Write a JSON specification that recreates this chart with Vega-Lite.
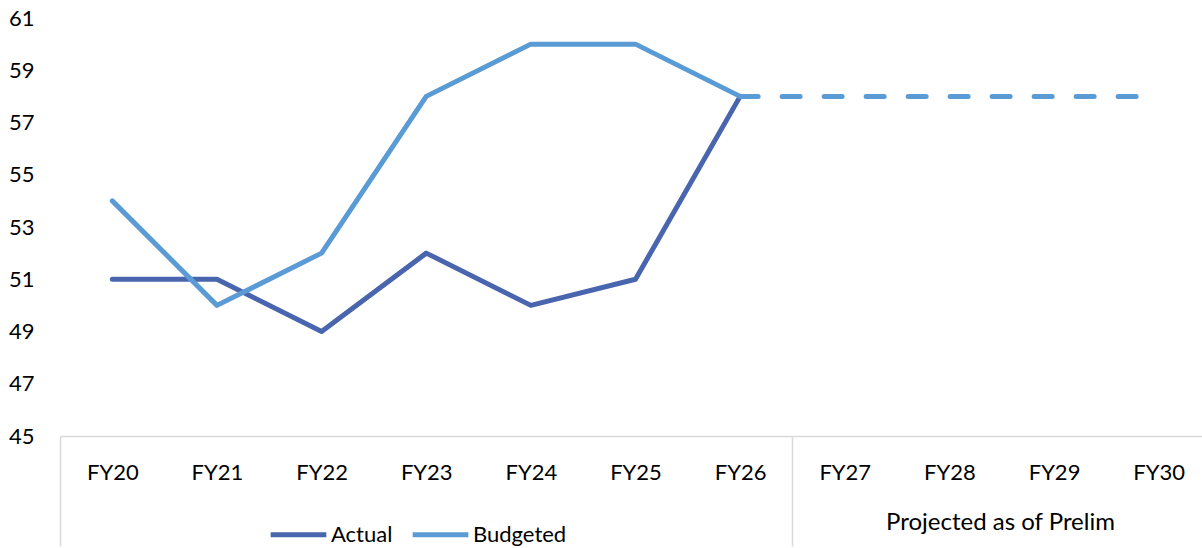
{
  "$schema": "https://vega.github.io/schema/vega-lite/v6.json",
  "autosize": "none",
  "width": 1151,
  "height": 418,
  "padding": {"left": 60, "top": 18, "right": 0, "bottom": 112},
  "background": "white",
  "config": {
    "view": {"stroke": null},
    "font": "Lato",
    "axis": {"labelFont": "Lato", "labelColor": "#000000", "titleFont": "Lato"},
    "legend": {"labelFont": "Lato"}
  },
  "data": {
    "values": [
      {"year": "FY20", "series": "Actual", "value": 51, "part": "hist"},
      {"year": "FY21", "series": "Actual", "value": 51, "part": "hist"},
      {"year": "FY22", "series": "Actual", "value": 49, "part": "hist"},
      {"year": "FY23", "series": "Actual", "value": 52, "part": "hist"},
      {"year": "FY24", "series": "Actual", "value": 50, "part": "hist"},
      {"year": "FY25", "series": "Actual", "value": 51, "part": "hist"},
      {"year": "FY26", "series": "Actual", "value": 58, "part": "hist"},
      {"year": "FY20", "series": "Budgeted", "value": 54, "part": "hist"},
      {"year": "FY21", "series": "Budgeted", "value": 50, "part": "hist"},
      {"year": "FY22", "series": "Budgeted", "value": 52, "part": "hist"},
      {"year": "FY23", "series": "Budgeted", "value": 58, "part": "hist"},
      {"year": "FY24", "series": "Budgeted", "value": 60, "part": "hist"},
      {"year": "FY25", "series": "Budgeted", "value": 60, "part": "hist"},
      {"year": "FY26", "series": "Budgeted", "value": 58, "part": "hist"},
      {"year": "FY26", "series": "Budgeted", "value": 58, "part": "proj"},
      {"year": "FY27", "series": "Budgeted", "value": 58, "part": "proj"},
      {"year": "FY28", "series": "Budgeted", "value": 58, "part": "proj"},
      {"year": "FY29", "series": "Budgeted", "value": 58, "part": "proj"},
      {"year": "FY30", "series": "Budgeted", "value": 58, "part": "proj"}
    ]
  },
  "encoding": {
    "x": {
      "field": "year",
      "type": "nominal",
      "sort": ["FY20","FY21","FY22","FY23","FY24","FY25","FY26","FY27","FY28","FY29","FY30"],
      "scale": {"type": "band", "domain": ["FY20","FY21","FY22","FY23","FY24","FY25","FY26","FY27","FY28","FY29","FY30"], "paddingInner": 0, "paddingOuter": 0},
      "axis": {
        "title": "Projected as of Prelim",
        "titleX": 940,
        "titleY": 86,
        "titleAlign": "center",
        "titleBaseline": "middle",
        "titleFontSize": 24,
        "titleFontWeight": "normal",
        "titleColor": "#000000",
        "labelAngle": 0,
        "labelFontSize": 22,
        "labelBaseline": "middle",
        "labelPadding": -74,
        "domainColor": "#d9d9d9",
        "domainWidth": 1.5,
        "ticks": true,
        "tickBand": "extent",
        "tickSize": 110,
        "tickWidth": 1.5,
        "tickColor": {"condition": {"test": "datum.value === 'FY26' || datum.extra", "value": "#d9d9d9"}, "value": "transparent"},
        "grid": false
      }
    },
    "y": {
      "field": "value",
      "type": "quantitative",
      "scale": {"domain": [45, 61], "nice": false, "zero": false},
      "axis": {
        "title": null,
        "values": [45, 47, 49, 51, 53, 55, 57, 59, 61],
        "labelFontSize": 22,
        "labelPadding": 26,
        "ticks": false,
        "domain": false,
        "grid": false
      }
    }
  },
  "layer": [
    {
      "transform": [{"filter": "datum.part === 'hist'"}],
      "mark": {"type": "line", "strokeWidth": 5, "strokeCap": "round", "strokeJoin": "round"},
      "encoding": {
        "color": {
          "field": "series",
          "type": "nominal",
          "scale": {"domain": ["Actual", "Budgeted"], "range": ["#4865ae", "#5b9bd5"]},
          "legend": {
            "title": null,
            "orient": "none",
            "direction": "horizontal",
            "legendX": 208,
            "legendY": 486,
            "symbolType": "stroke",
            "symbolSize": 3100,
            "symbolStrokeWidth": 5,
            "labelFontSize": 22,
            "labelOffset": 2,
            "columnPadding": 9,
            "labelColor": "#000000"
          }
        }
      }
    },
    {
      "transform": [{"filter": "datum.part === 'proj'"}],
      "mark": {"type": "line", "strokeWidth": 5, "strokeCap": "round", "strokeDash": [18, 24], "color": "#5b9bd5"},
      "encoding": {}
    }
  ]
}
